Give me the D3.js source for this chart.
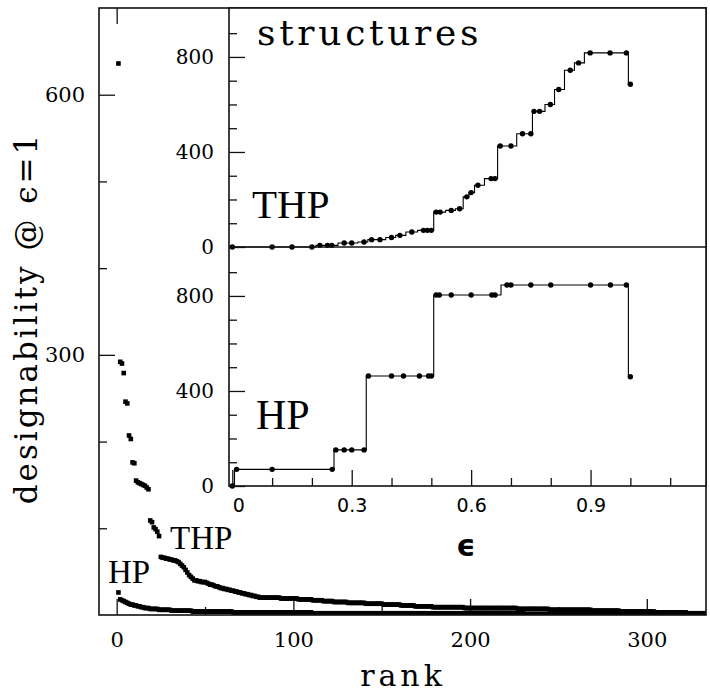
<!DOCTYPE html>
<html>
<head>
<meta charset="utf-8">
<script src="https://cdn.jsdelivr.net/npm/d3@7"></script>
<style>
  body { margin: 0; background: #fff; }
  .tick line { stroke: #111; stroke-width: 1.3; }
  .tick text { fill: #000; }
</style>
</head>
<body>
<div id="chart"></div>
<script>
// designability vs rank (main plot), ranks 1..80 read one by one
var thpHead = [636, 292, 290, 279, 246, 244, 207, 203, 176, 175,
               155, 153, 152, 151, 150, 149, 147, 145, 109, 107,
               101, 99, 96, 91, 67, 66, 66, 65, 65, 64,
               64, 63, 63, 62, 61, 59, 57, 55, 52, 49,
               46, 44, 42, 40, 40, 39, 39, 38, 38, 38,
               37, 36, 35, 35, 34, 33, 33, 32, 31, 31,
               30, 30, 29, 29, 28, 28, 27, 27, 26, 26,
               25, 25, 24, 24, 23, 23, 22, 22, 21, 21];
// tail of the THP curve as [value, how many ranks]
var thpTail = [[20, 12], [19, 10], [18, 8], [17, 6], [16, 6], [15, 8], [14, 10],
               [13, 10], [12, 10], [11, 8], [10, 10], [9, 18], [8, 30], [7, 18],
               [6, 24], [5, 16], [4, 20], [3, 18], [2, 18]];
var hpHead = [26, 18, 17, 16, 15, 14, 13, 12, 12, 11, 11, 10, 10, 9, 9, 8, 8, 8];
var hpTail = [[7, 5], [6, 7], [5, 12], [4, 23], [3, 45], [2, 120], [1, 110]];

// number of structures vs epsilon (insets)
var thpEps = [0, 0.1, 0.15, 0.2, 0.22, 0.239, 0.25, 0.281, 0.30, 0.331,
              0.35, 0.371, 0.40, 0.421, 0.451, 0.48, 0.49, 0.50, 0.512, 0.522,
              0.55, 0.571, 0.589, 0.60, 0.617, 0.65, 0.66, 0.673, 0.70, 0.729,
              0.75, 0.758, 0.772, 0.799, 0.82, 0.849, 0.87, 0.899, 0.949, 0.99, 1.0];
var thpStruct = [0, 0, 0, 0, 7, 7, 7, 17, 17, 21,
                 31, 31, 40, 49, 63, 70, 70, 70, 147, 147,
                 154, 161, 211, 229, 260, 288, 288, 425, 425, 477,
                 477, 571, 571, 600, 663, 744, 775, 817, 817, 817, 685];
var hpEps = [0, 0.011, 0.1, 0.251, 0.26, 0.281, 0.30, 0.331, 0.342, 0.40,
             0.43, 0.47, 0.493, 0.50, 0.512, 0.52, 0.55, 0.60, 0.652, 0.66,
             0.69, 0.70, 0.75, 0.80, 0.90, 0.95, 0.99, 1.0];
var hpStruct = [0, 70, 70, 70, 152, 152, 152, 152, 463, 463,
                463, 463, 463, 463, 804, 804, 804, 804, 804, 804,
                846, 846, 846, 846, 846, 846, 846, 460];

// ticks
var rankMajor = [0, 100, 200, 300], rankMinor = [50, 150, 250];
var desMajor = [300, 600], desMinor = [100, 200, 400, 500];
var epsMajor = [0, 0.3, 0.6, 0.9], epsMinor = [0.1, 0.2, 0.4, 0.5, 0.7, 0.8, 1.0, 1.1];
var structMajor = [0, 400, 800], structMinor = [100, 200, 300, 500, 600, 700, 900];

// frame positions
var main = {left: 99, right: 706, top: 8, bottom: 615};
var ins = {left: 229, right: 706, top: 8, mid: 247, bottom: 486};

var svg = d3.select("#chart").append("svg")
    .attr("width", 710)
    .attr("height", 693);

// Turn head + runs into a plain list of {rank, value}
function ranked(head, runs) {
    var vals = head.slice();
    runs.forEach(function(r) { for (var i = 0; i < r[1]; i++) vals.push(r[0]); });
    return vals.map(function(v, i) { return {rank: i + 1, value: v}; });
}
var thpData = ranked(thpHead, thpTail);
var hpData = ranked(hpHead, hpTail);

var x = d3.scaleLinear().domain([-10, 333.5]).range([main.left, main.right]);
var y = d3.scaleLinear().domain([0, 700]).range([main.bottom, main.top]);

svg.append("clipPath").attr("id", "clipMain").append("rect")
    .attr("x", main.left).attr("y", main.top)
    .attr("width", main.right - main.left).attr("height", main.bottom - main.top);

function noDomain(g) { g.select(".domain").remove(); }

// main axes
svg.append("g")
    .attr("transform", "translate(0," + main.bottom + ")")
    .call(d3.axisBottom(x).tickValues(rankMajor).tickSize(-16).tickPadding(17).tickFormat(d3.format("d")))
    .call(noDomain);
svg.append("g")
    .attr("transform", "translate(0," + main.bottom + ")")
    .call(d3.axisBottom(x).tickValues(rankMinor).tickSize(-8).tickFormat(""))
    .call(noDomain);
svg.append("g")
    .attr("transform", "translate(0," + main.top + ")")
    .call(d3.axisTop(x).tickValues(rankMajor).tickSize(-16).tickFormat(""))
    .call(noDomain);
svg.append("g")
    .attr("transform", "translate(" + main.left + ",0)")
    .call(d3.axisLeft(y).tickValues(desMajor).tickSize(-16).tickPadding(14))
    .call(noDomain);
svg.append("g")
    .attr("transform", "translate(" + main.left + ",0)")
    .call(d3.axisLeft(y).tickValues(desMinor).tickSize(-8).tickFormat(""))
    .call(noDomain);

svg.selectAll(".tick text")
    .attr("font-family", "DejaVu Serif")
    .attr("font-size", 21);

// main points
var pts = svg.append("g").attr("clip-path", "url(#clipMain)");
[thpData, hpData].forEach(function(data) {
    pts.selectAll(null)
        .data(data)
        .enter().append("rect")
        .attr("x", function(d) { return x(d.rank) - 2.3; })
        .attr("y", function(d) { return y(d.value) - 2.3; })
        .attr("width", 4.6)
        .attr("height", 4.6)
        .attr("fill", "#000");
});

svg.append("rect")
    .attr("x", main.left).attr("y", main.top)
    .attr("width", main.right - main.left).attr("height", main.bottom - main.top)
    .attr("fill", "none").attr("stroke", "#111").attr("stroke-width", 1.6);

// labels of main plot
svg.append("text")
    .attr("x", 170).attr("y", 549)
    .attr("font-family", "Liberation Serif").attr("font-size", 33)
    .text("THP");
svg.append("text")
    .attr("x", 108).attr("y", 583)
    .attr("font-family", "Liberation Serif").attr("font-size", 33)
    .text("HP");
svg.append("text")
    .attr("x", 403).attr("y", 686)
    .attr("text-anchor", "middle")
    .attr("font-family", "DejaVu Serif").attr("font-size", 30)
    .attr("letter-spacing", 4)
    .text("rank");
svg.append("text")
    .attr("transform", "translate(37,318) rotate(-90)")
    .attr("text-anchor", "middle")
    .attr("font-family", "DejaVu Serif").attr("font-size", 31)
    .attr("letter-spacing", 3)
    .text("designability @ \u03f5=1");

// ---- inset ----
var ex = d3.scaleLinear().domain([-0.0083, 1.19]).range([ins.left, ins.right]);
var yT = d3.scaleLinear().domain([0, 1006]).range([ins.mid, ins.top]);
var yH = d3.scaleLinear().domain([0, 1006]).range([ins.bottom, ins.mid]);

svg.append("rect")
    .attr("x", ins.left).attr("y", ins.top)
    .attr("width", ins.right - ins.left).attr("height", ins.bottom - ins.top)
    .attr("fill", "#fff");

var insetG = svg.append("g");

function epsFmt(d) { return d === 0 ? "0" : d3.format(".1f")(d); }

insetG.append("g")
    .attr("class", "eps")
    .attr("transform", "translate(0," + ins.bottom + ")")
    .call(d3.axisBottom(ex).tickValues(epsMajor).tickSize(-16).tickPadding(13).tickFormat(epsFmt))
    .call(noDomain);
insetG.append("g")
    .attr("transform", "translate(0," + ins.bottom + ")")
    .call(d3.axisBottom(ex).tickValues(epsMinor).tickSize(-8).tickFormat(""))
    .call(noDomain);

[yT, yH].forEach(function(ys) {
    insetG.append("g")
        .attr("class", "struct")
        .attr("transform", "translate(" + ins.left + ",0)")
        .call(d3.axisLeft(ys).tickValues(structMajor).tickSize(-16).tickPadding(15))
        .call(noDomain);
    insetG.append("g")
        .attr("transform", "translate(" + ins.left + ",0)")
        .call(d3.axisLeft(ys).tickValues(structMinor).tickSize(-8).tickFormat(""))
        .call(noDomain);
});

insetG.selectAll(".eps .tick text")
    .attr("font-family", "DejaVu Sans")
    .attr("font-size", 19)
    .attr("dx", function(d) { return d === 0 ? 6 : 0; });
insetG.selectAll(".struct .tick text")
    .attr("font-family", "DejaVu Serif")
    .attr("font-size", 20);

var stepLine = function(ys) {
    return d3.line()
        .x(function(d) { return ex(d.e); })
        .y(function(d) { return ys(d.n); })
        .curve(d3.curveStep);
};
var thpCurve = thpEps.map(function(e, i) { return {e: e, n: thpStruct[i]}; });
var hpCurve = hpEps.map(function(e, i) { return {e: e, n: hpStruct[i]}; });

[[thpCurve, yT], [hpCurve, yH]].forEach(function(p) {
    insetG.append("path")
        .datum(p[0])
        .attr("d", stepLine(p[1]))
        .attr("fill", "none")
        .attr("stroke", "#000")
        .attr("stroke-width", 1.1);
    insetG.selectAll(null)
        .data(p[0])
        .enter().append("circle")
        .attr("cx", function(d) { return ex(d.e); })
        .attr("cy", function(d) { return p[1](d.n); })
        .attr("r", 2.7)
        .attr("fill", "#000");
});

// inset frames
insetG.append("rect")
    .attr("x", ins.left).attr("y", ins.top)
    .attr("width", ins.right - ins.left).attr("height", ins.bottom - ins.top)
    .attr("fill", "none").attr("stroke", "#111").attr("stroke-width", 1.6);
insetG.append("line")
    .attr("x1", ins.left).attr("x2", ins.right)
    .attr("y1", ins.mid).attr("y2", ins.mid)
    .attr("stroke", "#111").attr("stroke-width", 1.6);

// inset texts
insetG.append("text")
    .attr("x", 257).attr("y", 45)
    .attr("font-family", "DejaVu Serif").attr("font-size", 36)
    .attr("letter-spacing", 3.7)
    .text("structures");
insetG.append("text")
    .attr("x", 252).attr("y", 218)
    .attr("font-family", "Liberation Serif").attr("font-size", 41)
    .text("THP");
insetG.append("text")
    .attr("x", 256).attr("y", 429)
    .attr("font-family", "Liberation Serif").attr("font-size", 42)
    .text("HP");
insetG.append("text")
    .attr("x", 466).attr("y", 556)
    .attr("text-anchor", "middle")
    .attr("font-family", "DejaVu Sans").attr("font-weight", "bold").attr("font-size", 30)
    .text("\u03f5");
</script>
</body>
</html>
